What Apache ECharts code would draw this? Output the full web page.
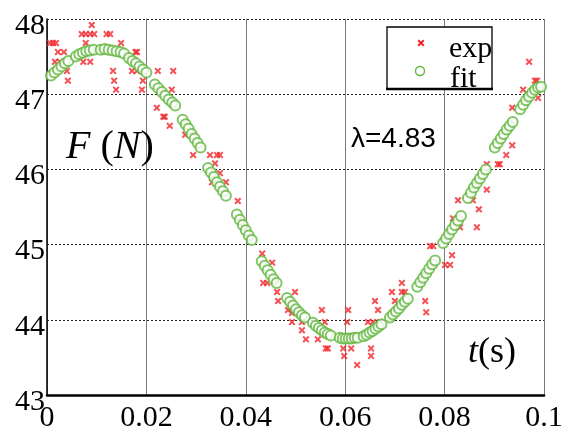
<!DOCTYPE html>
<html><head><meta charset="utf-8">
<script src="https://cdn.jsdelivr.net/npm/echarts@6/dist/echarts.min.js"></script>
<style>html,body{margin:0;padding:0;background:#fff}#c{width:568px;height:429px}</style>
</head><body><div id="c"></div>
<script>
var xTicks = [0, 0.02, 0.04, 0.06, 0.08, 0.1];
var yTicks = [43, 44, 45, 46, 47, 48];
var seriesNames = ['exp', 'fit'];

var fitT = [0.0008,0.0015,0.0022,0.0029,0.0036,0.0043,
 0.0058,0.0065,0.0072,0.0079,0.0086,0.0094,
 0.0108,0.0116,0.0124,0.0132,0.0140,0.0148,0.0155,
 0.0165,0.0172,0.0179,0.0186,0.0193,0.0200,
 0.0217,0.0224,0.0231,0.0238,0.0245,0.0252,0.0258,
 0.0273,0.0279,0.0285,0.0291,0.0297,0.0303,0.0309,
 0.0324,0.0330,0.0336,0.0342,0.0348,0.0354,0.0360,
 0.0382,0.0388,0.0394,0.0400,0.0406,0.0412,
 0.0432,0.0438,0.0444,0.0450,0.0456,0.0462,
 0.0483,0.0489,0.0495,0.0501,0.0507,0.0513,0.0519,
 0.0535,0.0541,0.0547,0.0553,0.0559,0.0565,0.0571,
 0.0589,0.0595,0.0601,0.0607,0.0613,0.0619,0.0625,
 0.0637,0.0643,0.0649,0.0655,0.0661,0.0667,0.0673,
 0.0690,0.0696,0.0702,0.0708,0.0714,0.0720,0.0726,
 0.0745,0.0751,0.0757,0.0763,0.0769,0.0775,0.0781,
 0.0797,0.0803,0.0809,0.0815,0.0821,0.0827,0.0833,
 0.0847,0.0853,0.0859,0.0865,0.0871,0.0877,0.0883,
 0.0901,0.0907,0.0913,0.0919,0.0925,0.0931,0.0937,
 0.0952,0.0958,0.0964,0.0970,0.0976,0.0982,0.0988,0.0994];
var fitF = [47.25,47.29,47.33,47.37,47.41,47.44,
 47.50,47.53,47.55,47.57,47.58,47.59,
 47.59,47.60,47.59,47.58,47.57,47.56,47.54,
 47.48,47.44,47.41,47.37,47.33,47.29,
 47.13,47.08,47.03,46.98,46.93,46.89,46.85,
 46.66,46.60,46.54,46.47,46.41,46.35,46.29,
 46.02,45.96,45.90,45.83,45.77,45.71,45.65,
 45.40,45.33,45.26,45.19,45.12,45.06,
 44.78,44.72,44.66,44.60,44.54,44.49,
 44.29,44.24,44.19,44.14,44.10,44.06,44.03,
 43.96,43.92,43.89,43.86,43.83,43.81,43.79,
 43.76,43.75,43.75,43.75,43.75,43.76,43.76,
 43.78,43.80,43.83,43.85,43.88,43.91,43.94,
 44.03,44.07,44.11,44.15,44.20,44.24,44.28,
 44.44,44.50,44.56,44.62,44.68,44.74,44.79,
 45.02,45.08,45.14,45.20,45.26,45.32,45.38,
 45.62,45.69,45.76,45.82,45.88,45.94,46.00,
 46.29,46.35,46.41,46.47,46.53,46.58,46.63,
 46.80,46.86,46.92,46.97,47.02,47.06,47.09,47.10];

var expT = [0.0006,0.0012,0.0018,0.0090,0.0070,0.0078,0.0087,0.0095,0.0120,0.0127,
 0.0022,0.0034,0.0016,0.0026,0.0040,0.0042,0.0078,0.0073,0.0087,
 0.0133,0.0135,0.0139,0.0149,0.0178,0.0181,0.0171,0.0181,0.0193,0.0191,
 0.0223,0.0254,0.0227,0.0251,0.0221,0.0234,0.0237,0.0247,0.0278,0.0294,0.0302,
 0.0294,0.0328,0.0342,0.0348,0.0338,0.0348,0.0332,0.0360,
 0.0384,0.0388,0.0394,0.0408,0.0433,0.0453,0.0435,0.0443,0.0459,
 0.0463,0.0499,0.0465,0.0485,0.0493,0.0493,0.0513,0.0513,0.0521,
 0.0553,0.0559,0.0545,0.0561,0.0565,
 0.0606,0.0604,0.0596,0.0612,0.0598,0.0624,
 0.0652,0.0652,0.0646,0.0656,0.0660,
 0.0714,0.0694,0.0714,0.0720,0.0700,0.0761,0.0666,0.0763,0.0670,
 0.0771,0.0777,0.0815,0.0801,0.0811,
 0.0817,0.0831,0.0865,0.0869,0.0827,0.0857,0.0885,
 0.0885,0.0907,0.0911,0.0924,0.0936,
 0.0970,0.0982,0.0986,0.0958,0.0988,0.0936];
var expF = [47.68,47.68,47.68,47.92,47.80,47.80,47.80,47.80,47.80,47.80,
 47.56,47.56,47.43,47.43,47.31,47.18,47.68,47.43,47.43,
 47.31,47.18,47.06,47.68,47.56,47.56,47.31,47.31,47.18,47.06,
 47.31,47.31,47.06,47.06,46.82,46.70,46.70,46.58,46.46,46.46,46.34,
 46.19,46.19,46.19,46.19,46.08,45.95,45.83,45.83,
 45.58,45.35,45.23,45.10,44.88,44.76,44.49,44.49,44.53,
 44.37,44.37,44.25,44.13,44.09,43.97,43.97,43.86,43.74,
 44.13,43.97,43.74,43.62,43.62,
 44.13,43.97,43.62,43.62,43.52,43.40,
 43.62,43.52,43.97,43.97,44.25,
 44.49,44.37,44.37,44.37,44.25,44.25,44.13,44.10,43.97,
 44.98,44.98,44.86,44.73,44.73,
 45.35,45.23,45.23,45.47,45.59,45.59,45.73,
 46.07,46.07,46.07,46.19,46.32,
 47.43,47.18,47.18,47.06,46.95,46.82];

function zip(a, b) { return a.map(function (v, i) { return [v, b[i]]; }); }

var XPATH = 'path://M0,2L2,0L5,3L8,0L10,2L7,5L10,8L8,10L5,7L2,10L0,8L3,5Z';
var XPTS = [[0,1.4],[1.4,0],[3.5,2.1],[5.6,0],[7,1.4],[4.9,3.5],[7,5.6],[5.6,7],[3.5,4.9],[1.4,7],[0,5.6],[2.1,3.5]];
var RED = '#f0262b', GREEN = '#62b63e';
var SERIF = '"Liberation Serif", "Times New Roman", serif';

var chart = echarts.init(document.getElementById('c'), null, {renderer: 'canvas'});
chart.setOption({
  animation: false,
  backgroundColor: '#fff',
  grid: {left: 47, right: 24, top: 19, bottom: 34, containLabel: false, outerBoundsMode: 'none'},
  xAxis: {
    type: 'value', min: xTicks[0], max: xTicks[xTicks.length - 1], interval: 0.02,
    axisLine: {lineStyle: {color: '#000', width: 2.5}},
    axisTick: {show: false},
    axisLabel: {color: '#000', fontFamily: SERIF, fontSize: 30, margin: 8, hideOverlap: false,
      formatter: function (v) { return String(+v.toFixed(2)); }},
    splitLine: {show: true, lineStyle: {color: '#7a7a7a', width: 1, type: 'solid'}}
  },
  yAxis: {
    type: 'value', min: yTicks[0], max: yTicks[yTicks.length - 1], interval: 1,
    axisLine: {show: true, lineStyle: {color: '#000', width: 1.5}},
    axisTick: {show: false},
    axisLabel: {color: '#000', fontFamily: SERIF, fontSize: 30, margin: 2, hideOverlap: false,
      verticalAlign: 'top', lineHeight: 14},
    splitLine: {show: true, lineStyle: {color: '#222', width: 1, type: [2, 2]}}
  },
  graphic: [
    {type: 'rect', z: 5, shape: {x: 387, y: 27, width: 105, height: 62},
     style: {fill: '#fff', stroke: '#000', lineWidth: 1.3}},
    {type: 'line', z: 6, shape: {x1: 386, y1: 89, x2: 493, y2: 89},
     style: {stroke: '#000', lineWidth: 2.5}},
    {type: 'polygon', z: 7, x: 417.5, y: 39.5, shape: {points: XPTS},
     style: {fill: RED}},
    {type: 'circle', z: 7, shape: {cx: 420, cy: 71, r: 4.5},
     style: {fill: 'none', stroke: GREEN, lineWidth: 1.4}},
    {type: 'text', z: 7, x: 449, y: 49,
     style: {text: seriesNames[0], font: '30px ' + SERIF, fill: '#000', verticalAlign: 'middle'}},
    {type: 'text', z: 7, x: 450, y: 79,
     style: {text: seriesNames[1], font: '30px ' + SERIF, fill: '#000', verticalAlign: 'middle'}},
    {type: 'text', z: 6, x: 66, y: 147,
     style: {text: '{i|F} ({i|N})', font: '40px ' + SERIF, fill: '#000', verticalAlign: 'middle',
       rich: {i: {fontStyle: 'italic', fontSize: 40, fontFamily: SERIF}}}},
    {type: 'text', z: 6, x: 351, y: 139,
     style: {text: 'λ=4.83', font: '28px "Liberation Sans", Arial, sans-serif', fill: '#000', verticalAlign: 'middle'}},
    {type: 'text', z: 6, x: 468, y: 353,
     style: {text: '{i|t}(s)', font: '36px ' + SERIF, fill: '#000', verticalAlign: 'middle',
       rich: {i: {fontStyle: 'italic', fontSize: 36, fontFamily: SERIF}}}}
  ],
  series: [
    {name: seriesNames[0], type: 'scatter', symbol: XPATH, symbolSize: 7,
     itemStyle: {color: RED}, data: zip(expT, expF), z: 2},
    {name: seriesNames[1], type: 'scatter', symbol: 'emptyCircle', symbolSize: 10,
     itemStyle: {color: GREEN, borderColor: GREEN, borderWidth: 1.4}, data: zip(fitT, fitF), z: 3}
  ]
});
</script></body></html>
